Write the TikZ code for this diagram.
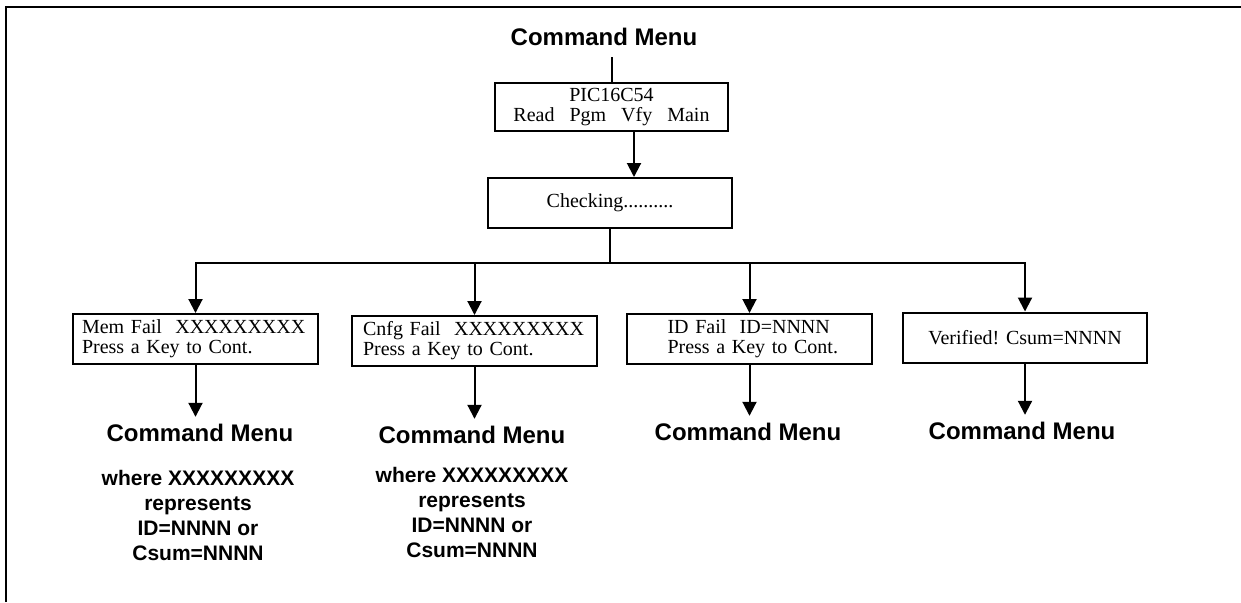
\documentclass[tikz,border=0pt]{standalone}
\usepackage{fontspec}
\setmainfont{Liberation Serif}
\setsansfont{Liberation Sans}
\usetikzlibrary{arrows.meta}

\tikzset{
  box/.style={draw, line width=1pt, font=\fontsize{10}{10}\selectfont, minimum height=25pt, inner ysep=2pt},
  menu/.style={font=\sffamily\bfseries\fontsize{12}{14}\selectfont, inner sep=3.5pt},
  note/.style={font=\sffamily\bfseries\fontsize{10.5}{12.5}\selectfont, align=center},
  wire/.style={line width=1pt},
  arr/.style={line width=1pt, -{Triangle[width=7pt,length=7pt]}}
}

\begin{document}
\begin{tikzpicture}[x=0.5pt, y=-0.5pt]
\useasboundingbox (0,0) rectangle (1241,602);
\draw[wire] (6,602) -- (6,7) -- (1241,7);

% top of the menu
\node[menu] (top) at (604,37) {Command Menu};
\node[box, minimum width=116.5pt, minimum height=24pt, align=center] (pic) at (611.5,107) {PIC16C54\\Read~~~Pgm~~~Vfy~~~Main};
\node[box, minimum width=122pt] (check) at (610,203) {Checking..........};
\coordinate (bus) at (610,263);

% results
\node[box, minimum width=122.5pt, text width=113.5pt, inner xsep=4.5pt, align=left] (mem) at (195.5,339) {Mem Fail~~XXXXXXXXX\\Press a Key to Cont.};
\node[box, minimum width=122.5pt, text width=111.5pt, inner xsep=5.5pt, align=left] (cnfg) at (474.5,341) {Cnfg Fail~~XXXXXXXXX\\Press a Key to Cont.};
\node[box, minimum width=122.5pt, text width=90pt, inner xsep=16.25pt, align=left] (idf) at (749.5,339) {\hspace*{4pt}ID Fail~~ID=NNNN\\\hspace*{4pt}Press a Key to Cont.};
\node[box, minimum width=122pt] (ver) at (1025,337.5) {Verified! Csum=NNNN};

\node[menu] (m1) at (200,433) {Command Menu};
\node[menu] (m2) at (472,435) {Command Menu};
\node[menu] (m3) at (748,432) {Command Menu};
\node[menu] (m4) at (1022,431) {Command Menu};

\node[note] (n1) at (198,515) {where XXXXXXXXX\\represents\\ID=NNNN or\\Csum=NNNN};
\node[note] (n2) at (472,512) {where XXXXXXXXX\\represents\\ID=NNNN or\\Csum=NNNN};

\draw[wire] ([yshift=-2pt]top.south -| pic.north) -- (pic.north);
\draw[arr] ([xshift=11.25pt]pic.south) -- ([xshift=11.25pt]pic.south |- check.north);
\draw[wire] (check.south) -- (bus);

\foreach \b in {mem,cnfg,idf,ver}
  \draw[arr] (bus) -| (\b.north);

\draw[arr] (mem.south) -- (mem.south |- m1.north);
\draw[arr] (cnfg.south) -- (cnfg.south |- m2.north);
\draw[arr] (idf.south) -- (idf.south |- m3.north);
\draw[arr] (ver.south) -- (ver.south |- m4.north);
\end{tikzpicture}
\end{document}
